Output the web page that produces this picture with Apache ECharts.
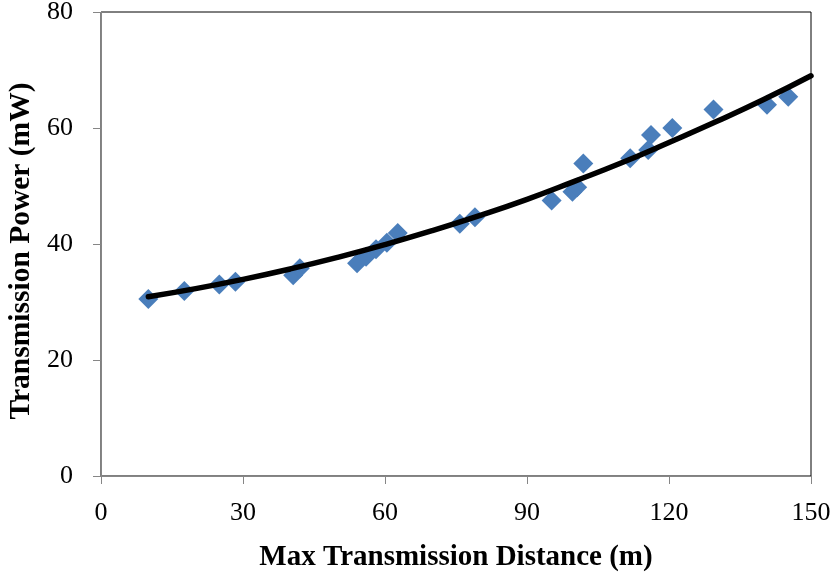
<!DOCTYPE html>
<html>
<head>
<meta charset="utf-8">
<script src="https://cdn.jsdelivr.net/npm/echarts@6/dist/echarts.min.js"></script>
<style>html,body{margin:0;padding:0;background:#fff}#c{width:834px;height:573px}</style>
</head>
<body>
<div id="c"></div>
<script>
// Scatter measurements
var distX = [10, 17.6, 25, 28.4, 40.6, 42, 54.1, 56, 58.1, 60.4, 62.7, 75.8, 79.0, 95.2, 99.6, 100.6, 101.9, 111.8, 115.6, 116.2, 120.7, 129.4, 140.7, 145.2];
var powerY = [30.5, 31.9, 33.0, 33.5, 34.6, 35.8, 36.7, 37.8, 39.1, 40.2, 41.9, 43.5, 44.6, 47.5, 49.0, 49.8, 53.9, 54.8, 56.2, 58.8, 60.0, 63.2, 64.0, 65.4];
// Trend curve
var trendX = [10, 20, 30, 40, 50, 60, 70, 80, 90, 100, 110, 120, 130, 140, 150];
var trendY = [30.9, 32.3, 33.9, 35.7, 37.7, 39.9, 42.3, 44.9, 47.7, 50.8, 54.0, 57.5, 61.1, 64.9, 69.0];
// Axis ticks
var xTicks = [0, 30, 60, 90, 120, 150];
var yTicks = [0, 20, 40, 60, 80];

var scatterData = distX.map(function (x, i) { return [x, powerY[i]]; });
var trendData = trendX.map(function (x, i) { return [x, trendY[i]]; });

var chart = echarts.init(document.getElementById('c'), null, {renderer: 'canvas'});
var font = '"Liberation Serif", "Times New Roman", serif';
chart.setOption({
  animation: false,
  grid: {left: 101, right: 23, top: 12, bottom: 97, containLabel: false, outerBoundsMode: 'none',
         show: true, borderColor: '#000', borderWidth: 1, backgroundColor: 'transparent'},
  xAxis: {
    type: 'value', min: xTicks[0], max: xTicks[xTicks.length - 1], interval: 30, z: 3,
    name: 'Max Transmission Distance (m)', nameLocation: 'middle', nameGap: 67,
    nameTextStyle: {fontFamily: font, fontWeight: 'bold', fontSize: 29, color: '#000'},
    axisLine: {show: true, lineStyle: {color: '#868686', width: 1}},
    axisTick: {show: true, length: 8, lineStyle: {color: '#868686'}},
    axisLabel: {fontFamily: font, fontSize: 26, color: '#000', margin: 24},
    splitLine: {show: false}
  },
  yAxis: {
    type: 'value', min: yTicks[0], max: yTicks[yTicks.length - 1], interval: 20, z: 3,
    name: 'Transmission Power (mW)', nameLocation: 'middle', nameGap: 61, nameRotate: 90,
    nameTextStyle: {fontFamily: font, fontWeight: 'bold', fontSize: 29.5, color: '#000', padding: [0, 14, 0, 0]},
    axisLine: {show: true, lineStyle: {color: '#868686', width: 1}},
    axisTick: {show: true, length: 8, lineStyle: {color: '#868686'}},
    axisLabel: {fontFamily: font, fontSize: 26, color: '#000', margin: 28},
    splitLine: {show: false}
  },
  series: [
    {
      type: 'scatter', data: scatterData, symbol: 'diamond', symbolSize: 20,
      itemStyle: {color: '#4A7EBB', opacity: 1}, z: 2
    },
    {
      type: 'line', data: trendData, smooth: true, showSymbol: false, symbol: 'none',
      lineStyle: {color: '#000', width: 5.5, cap: 'round'}, z: 3
    }
  ]
});
</script>
</body>
</html>
